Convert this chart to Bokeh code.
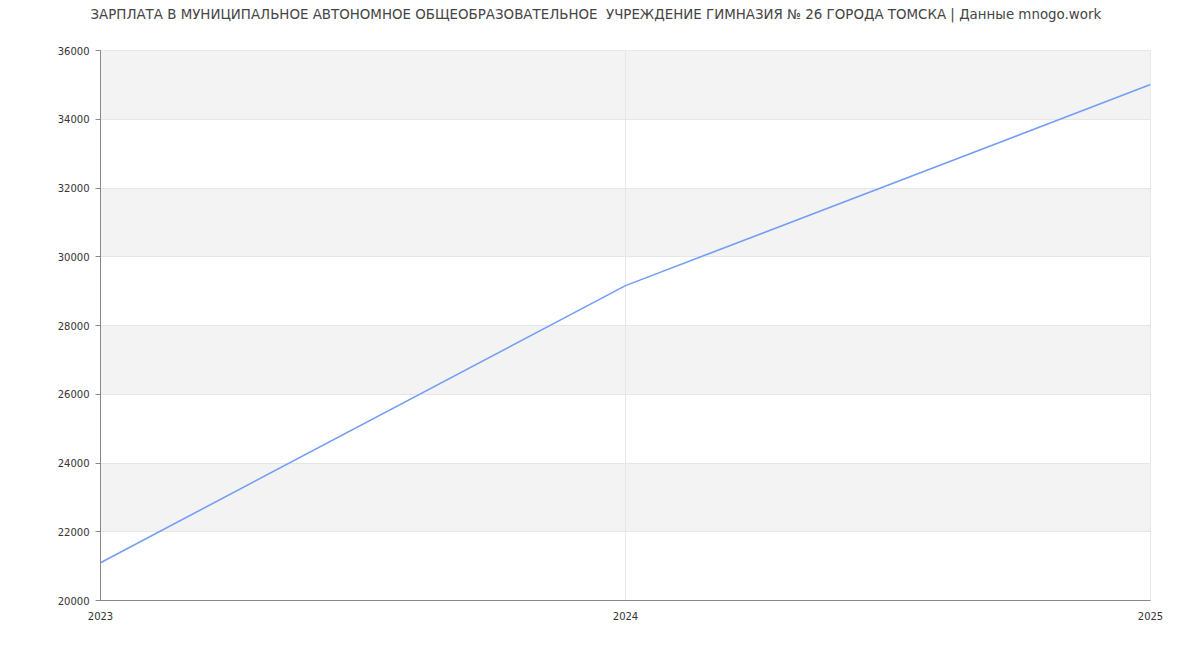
from bokeh.plotting import figure
from bokeh.models import FixedTicker, Range1d, Title
from bokeh.embed import file_html
from bokeh.resources import INLINE

years = [2023, 2024, 2025]
salary = [21100, 29160, 35010]
y_ticks = [20000, 22000, 24000, 26000, 28000, 30000, 32000, 34000, 36000]
title_text = "ЗАРПЛАТА В МУНИЦИПАЛЬНОЕ АВТОНОМНОЕ ОБЩЕОБРАЗОВАТЕЛЬНОЕ\u00a0 УЧРЕЖДЕНИЕ ГИМНАЗИЯ № 26 ГОРОДА ТОМСКА | Данные mnogo.work"

FONT = "DejaVu Sans"

p = figure(width=1200, height=640, output_backend="svg", toolbar_location=None,
           x_range=Range1d(2023, 2025), y_range=Range1d(20000, 36000),
           min_border_left=100, min_border_right=50, min_border_top=50, min_border_bottom=40)
p.title = None
p.add_layout(Title(text="\u00a0", standoff=8, text_font=FONT, text_font_size="13.5px"), "above")
p.add_layout(Title(text=title_text, align="left", offset=-10, standoff=6,
                   text_font=FONT, text_font_size="13.4px", text_font_style="normal",
                   text_color="#444444"), "above")
p.outline_line_color = "#e6e6e6"
p.background_fill_color = "white"
p.border_fill_color = "white"

p.line(years, salary, line_color="#739ef5", line_width=1.6)

p.xaxis.ticker = FixedTicker(ticks=years)
p.yaxis.ticker = FixedTicker(ticks=y_ticks)
for ax in (p.xaxis, p.yaxis):
    ax.axis_line_color = "#888888"
    ax.major_label_text_font = FONT
    ax.major_label_text_font_size = "10px"
    ax.major_label_text_color = "#333333"
    ax.minor_tick_line_color = None
p.xaxis.major_tick_line_color = None
p.xaxis.major_label_standoff = 5
p.yaxis.major_tick_line_color = "#888888"
p.yaxis.major_tick_out = 5
p.yaxis.major_tick_in = 0
p.yaxis.major_label_standoff = 6
p.yaxis.formatter.use_scientific = False

p.ygrid.grid_line_color = "#e6e6e6"
p.ygrid.band_fill_color = "#f3f3f3"
p.ygrid.band_fill_alpha = 1.0
p.ygrid.level = "image"
p.xgrid.grid_line_color = "#e6e6e6"
p.xgrid.level = "underlay"

open("out.html", "w").write(file_html(p, INLINE))
